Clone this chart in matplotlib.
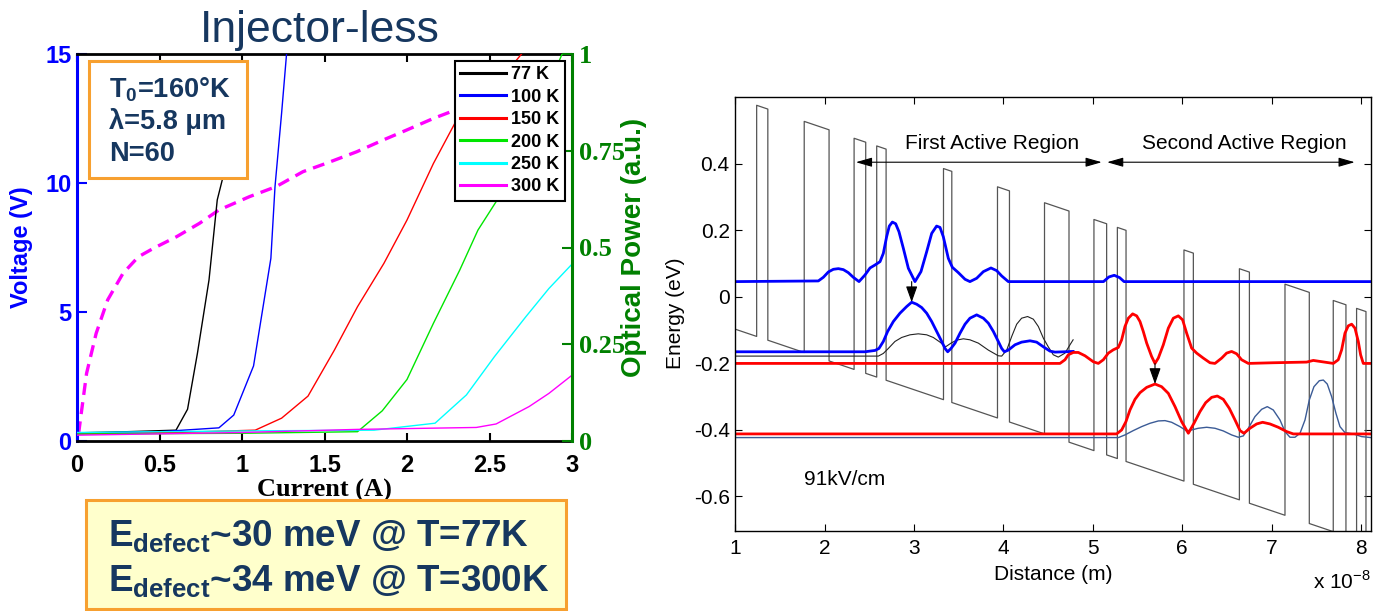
import matplotlib
matplotlib.use('Agg')
import matplotlib.pyplot as plt
from matplotlib.patches import Rectangle

plt.rcParams['font.family'] = ['Liberation Sans', 'DejaVu Sans']
plt.rcParams['axes.unicode_minus'] = False

W, H = 1382, 611

# ---------------- left panel data (current in A) ----------------
temps = ['77 K', '100 K', '150 K', '200 K', '250 K', '300 K']
temp_colors = ['#000000', '#0000FF', '#FF0000', '#00E600', '#00FFFF', '#FF00FF']

cur_77 = [0.0, 0.30, 0.60, 0.67, 0.73, 0.80, 0.85, 0.88, 0.95]
pow_77 = [0.021, 0.024, 0.028, 0.082, 0.227, 0.416, 0.623, 0.674, 0.85]
cur_100 = [0.0, 0.50, 0.86, 0.95, 1.07, 1.175, 1.20, 1.24, 1.27]
pow_100 = [0.020, 0.024, 0.034, 0.067, 0.194, 0.472, 0.657, 0.847, 1.0]
cur_150 = [0.0, 0.60, 1.08, 1.24, 1.40, 1.56, 1.70, 1.86, 2.00, 2.16, 2.30, 2.45, 2.64, 2.70]
pow_150 = [0.018, 0.022, 0.028, 0.059, 0.116, 0.235, 0.347, 0.459, 0.571, 0.717, 0.829, 0.900, 0.972, 1.003]
cur_200 = [0.0, 1.00, 1.70, 1.85, 2.00, 2.16, 2.32, 2.43, 2.55, 2.75, 2.94]
pow_200 = [0.018, 0.020, 0.024, 0.078, 0.159, 0.304, 0.442, 0.545, 0.625, 0.810, 1.0]
cur_250 = [0.0, 1.00, 1.80, 2.17, 2.36, 2.53, 2.72, 2.86, 3.0]
pow_250 = [0.022, 0.026, 0.028, 0.046, 0.119, 0.218, 0.321, 0.394, 0.457]
cur_300 = [0.0, 1.00, 1.70, 2.42, 2.54, 2.74, 2.86, 3.0]
pow_300 = [0.015, 0.022, 0.030, 0.035, 0.044, 0.089, 0.123, 0.170]

# voltage at 300 K (dashed)
cur_iv = [0.01, 0.023, 0.058, 0.116, 0.186, 0.279, 0.372, 0.464, 0.604, 0.743, 0.859,
          1.045, 1.207, 1.37, 1.509, 1.695, 1.857, 1.997, 2.159, 2.322, 2.45]
volt_iv = [0.3, 0.94, 2.62, 4.17, 5.47, 6.5, 7.14, 7.47, 7.92, 8.44, 8.95,
           9.47, 9.86, 10.44, 10.76, 11.21, 11.67, 12.05, 12.5, 12.9, 13.1]

curves = [(cur_77, pow_77), (cur_100, pow_100), (cur_150, pow_150),
          (cur_200, pow_200), (cur_250, pow_250), (cur_300, pow_300)]

# ---------------- right panel data (distance in 1e-8 m, energy in eV) ----------------
barriers = [(1.240, 1.365), (1.772, 2.050), (2.330, 2.460), (2.583, 2.688), (3.330, 3.423),
            (3.934, 4.068), (4.460, 4.734), (5.013, 5.155), (5.275, 5.372), (6.020, 6.125),
            (6.640, 6.752), (7.150, 7.422), (7.690, 7.832), (7.951, 8.056)]
field = 0.091        # eV per 1e-8 m  (91 kV/cm)
well_start = -0.097  # well bottom at x = 1
band_offset = 0.695
x_min, x_max = 1.0, 8.11

# upper laser level, first stage (blue, thick)
up1_x = [1.0, 1.930, 1.986, 2.042, 2.098, 2.154, 2.210, 2.265, 2.321, 2.385, 2.452, 2.508,
         2.564, 2.620, 2.657, 2.694, 2.724, 2.758, 2.795, 2.832, 2.881, 2.937, 3.011, 3.078,
         3.142, 3.198, 3.253, 3.291, 3.328, 3.384, 3.429, 3.496, 3.571, 3.626, 3.701, 3.776,
         3.861, 3.925, 3.981, 4.055, 5.12, 5.18, 5.24, 5.30, 5.35, 8.11]
up1_y = [0.046, 0.048, 0.059, 0.075, 0.083, 0.085, 0.082, 0.073, 0.059, 0.046, 0.066, 0.087,
         0.096, 0.106, 0.131, 0.181, 0.213, 0.225, 0.220, 0.196, 0.146, 0.086, 0.046, 0.076,
         0.136, 0.191, 0.213, 0.209, 0.181, 0.116, 0.089, 0.073, 0.053, 0.046, 0.056, 0.076,
         0.087, 0.079, 0.063, 0.046, 0.046, 0.060, 0.065, 0.058, 0.046, 0.046]

# lower laser level, first stage (blue, thick)
lo1_x = [1.0, 2.452, 2.564, 2.608, 2.657, 2.705, 2.769, 2.843, 2.918, 2.974, 3.030, 3.086,
         3.142, 3.198, 3.254, 3.310, 3.347, 3.377, 3.414, 3.459, 3.515, 3.571, 3.626, 3.701,
         3.776, 3.832, 3.888, 3.943, 3.981, 4.011, 4.055, 4.130, 4.204, 4.298, 4.372, 4.447,
         4.521, 4.577, 4.78]
lo1_y = [-0.165, -0.165, -0.161, -0.155, -0.134, -0.104, -0.074, -0.049, -0.029, -0.016,
         -0.022, -0.032, -0.049, -0.074, -0.104, -0.134, -0.155, -0.165, -0.155, -0.139,
         -0.109, -0.082, -0.064, -0.054, -0.064, -0.079, -0.104, -0.134, -0.155, -0.165,
         -0.160, -0.144, -0.136, -0.132, -0.136, -0.150, -0.163, -0.166, -0.164]

# second lower state, first stage (thin black)
lo1b_x = [1.0, 2.601, 2.657, 2.713, 2.787, 2.862, 2.955, 3.048, 3.142, 3.216, 3.291, 3.354,
          3.414, 3.477, 3.552, 3.626, 3.720, 3.832, 3.943, 3.981, 4.037, 4.093, 4.149, 4.204,
          4.271, 4.335, 4.391, 4.447, 4.502, 4.558, 4.614, 4.689, 4.745, 4.78]
lo1b_y = [-0.178, -0.178, -0.170, -0.155, -0.134, -0.122, -0.114, -0.111, -0.114, -0.122,
          -0.136, -0.150, -0.139, -0.130, -0.126, -0.129, -0.139, -0.160, -0.177, -0.178,
          -0.160, -0.119, -0.082, -0.064, -0.059, -0.067, -0.089, -0.124, -0.150, -0.174,
          -0.181, -0.169, -0.144, -0.129]

# upper laser level, second stage (red, thick)
up2_x = [1.0, 4.633, 4.689, 4.726, 4.782, 4.838, 4.913, 5.006, 5.062, 5.118, 5.174, 5.230,
         5.286, 5.323, 5.360, 5.398, 5.446, 5.491, 5.528, 5.565, 5.603, 5.658, 5.696, 5.733,
         5.789, 5.845, 5.901, 5.957, 6.005, 6.050, 6.106, 6.162, 6.236, 6.311, 6.367, 6.442,
         6.497, 6.553, 6.609, 6.665, 6.740, 7.019, 7.392, 7.467, 7.541, 7.691, 7.746, 7.784,
         7.821, 7.858, 7.896, 7.933, 7.970, 7.996, 8.026, 8.11]
up2_y = [-0.200, -0.200, -0.189, -0.174, -0.167, -0.167, -0.177, -0.195, -0.200, -0.189,
         -0.169, -0.159, -0.152, -0.129, -0.089, -0.064, -0.051, -0.057, -0.074, -0.104,
         -0.139, -0.179, -0.200, -0.184, -0.144, -0.094, -0.064, -0.057, -0.069, -0.109,
         -0.154, -0.169, -0.184, -0.198, -0.200, -0.184, -0.169, -0.164, -0.171, -0.189,
         -0.200, -0.198, -0.196, -0.191, -0.194, -0.200, -0.189, -0.159, -0.109, -0.087,
         -0.082, -0.094, -0.134, -0.174, -0.200, -0.200]

# lower laser level, second stage (red, thick)
lo2_x = [1.0, 5.267, 5.323, 5.371, 5.416, 5.472, 5.528, 5.603, 5.696, 5.770, 5.845, 5.920,
         5.994, 6.069, 6.132, 6.199, 6.263, 6.330, 6.393, 6.460, 6.527, 6.591, 6.647, 6.691,
         6.758, 6.833, 6.900, 6.982, 7.075, 7.169, 7.243, 8.11]
lo2_y = [-0.412, -0.412, -0.400, -0.375, -0.340, -0.308, -0.288, -0.272, -0.262, -0.270,
         -0.290, -0.330, -0.375, -0.410, -0.380, -0.345, -0.318, -0.302, -0.298, -0.308,
         -0.335, -0.370, -0.402, -0.410, -0.395, -0.382, -0.377, -0.382, -0.392, -0.405,
         -0.412, -0.412]

# second lower state, second stage (thin steel blue)
lo2b_x = [1.0, 5.286, 5.360, 5.453, 5.547, 5.640, 5.733, 5.808, 5.882, 5.975, 6.050, 6.106,
          6.180, 6.274, 6.367, 6.460, 6.553, 6.628, 6.684, 6.740, 6.814, 6.889, 6.952, 7.019,
          7.094, 7.150, 7.206, 7.262, 7.318, 7.374, 7.422, 7.474, 7.534, 7.579, 7.623, 7.672,
          7.720, 7.765, 7.821, 7.914, 8.007, 8.11]
lo2b_y = [-0.423, -0.423, -0.415, -0.402, -0.390, -0.380, -0.373, -0.372, -0.377, -0.390,
          -0.403, -0.400, -0.395, -0.392, -0.395, -0.403, -0.415, -0.422, -0.418, -0.395,
          -0.360, -0.338, -0.330, -0.340, -0.370, -0.405, -0.422, -0.422, -0.410, -0.370,
          -0.310, -0.270, -0.252, -0.250, -0.262, -0.300, -0.350, -0.390, -0.408, -0.412,
          -0.420, -0.423]

# laser transitions (arrows)
trans_x = [2.974, 5.696]
trans_top = [0.046, -0.200]
trans_bottom = [-0.016, -0.262]

# active region markers
region_names = ['First Active Region', 'Second Active Region']
region_start = [2.35, 5.16]
region_end = [5.10, 7.93]
region_y = 0.405
region_text_y = 0.462

# ---------------- figure ----------------
fig = plt.figure(figsize=(W / 100, H / 100), dpi=100)


def fx(px):
    return px / W


def fy(py):
    return 1 - py / H


navy = '#16375F'
orange = '#F7A030'
green_axis = '#008000'

# ===== left: LIV =====
axl = fig.add_axes([fx(77), fy(441), fx(572 - 77), (441 - 54) / H])
axp = axl.twinx()

axl.plot(cur_iv, volt_iv, color='#FF00FF', lw=2.4, dashes=(3.6, 2.2))
for (c, p), lab, col in zip(curves, temps, temp_colors):
    axp.plot(c, p, color=col, lw=1.0, label=lab)

axl.set_xlim(0, 3)
axl.set_ylim(0, 15)
axp.set_ylim(0, 1)

axl.set_xticks([0, 0.5, 1, 1.5, 2, 2.5, 3],
               labels=['0', '0.5', '1', '1.5', '2', '2.5', '3'],
               fontsize=17, fontweight='bold')
axl.set_yticks([0, 5, 10, 15], labels=['0', '5', '10', '15'],
               fontsize=17, fontweight='bold', color='#0000FF')
axp.set_yticks([0, 0.25, 0.5, 0.75, 1], labels=['0', '0.25', '0.5', '0.75', '1'],
               fontsize=19, fontweight='bold', color=green_axis,
               family=['Liberation Serif', 'DejaVu Serif'])

axl.tick_params(axis='x', direction='in', top=True, length=6, width=1.5, pad=9)
axl.tick_params(axis='y', direction='in', length=7, width=1.5, color='#0000FF', pad=4)
axp.tick_params(axis='y', direction='in', length=7, width=1.5, color=green_axis, pad=5)

for sp in ['top', 'bottom']:
    axl.spines[sp].set_linewidth(2.0)
axl.spines['left'].set_color('#0000FF')
axl.spines['left'].set_linewidth(2.2)
axl.spines['right'].set_visible(False)
axp.spines['left'].set_visible(False)
axp.spines['top'].set_visible(False)
axp.spines['bottom'].set_visible(False)
axp.spines['right'].set_color(green_axis)
axp.spines['right'].set_linewidth(2.2)

axl.set_xlabel('Current (A)', fontsize=19, fontweight='bold',
               family=['Liberation Serif', 'DejaVu Serif'], labelpad=2)
axl.set_ylabel('Voltage (V)', fontsize=17, fontweight='bold', color='#0000FF', labelpad=9)
axp.set_ylabel('Optical Power (a.u.)', fontsize=20, fontweight='bold', color=green_axis,
               labelpad=-3)

leg = axp.legend(loc='upper right', bbox_to_anchor=(0.986, 0.982), borderaxespad=0,
                 frameon=True, fancybox=False, edgecolor='black', framealpha=1,
                 prop={'weight': 'bold', 'size': 13}, labelspacing=0.3,
                 handlelength=2.55, handletextpad=0.3, borderpad=0.3)
leg.get_frame().set_linewidth(1.5)
for ln in leg.get_lines():
    ln.set_linewidth(2.2)

# title and info boxes
fig.text(fx(320), fy(42), 'Injector-less', fontsize=32, color=navy,
         ha='center', va='baseline')

fig.add_artist(Rectangle((fx(89), fy(178)), fx(247 - 89), (178 - 61) / H,
                         transform=fig.transFigure, facecolor='white',
                         edgecolor=orange, lw=2.2, zorder=5))
info_lines = [r'T$_{\mathregular{0}}$=160°K', 'λ=5.8 μm', 'N=60']
info_base = [98, 129, 161]
for s, b in zip(info_lines, info_base):
    fig.text(fx(109), fy(b), s, fontsize=19.5, fontweight='bold', color=navy,
             ha='left', va='baseline', zorder=6)

fig.add_artist(Rectangle((fx(86), fy(609)), fx(566 - 86), (609 - 500) / H,
                         transform=fig.transFigure, facecolor='#FFFFCC',
                         edgecolor=orange, lw=2.2, zorder=5))
defect_lines = [r'E$_{\mathregular{defect}}$~30 meV @ T=77K',
                r'E$_{\mathregular{defect}}$~34 meV @ T=300K']
defect_base = [547, 592]
for s, b in zip(defect_lines, defect_base):
    fig.text(fx(108), fy(b), s, fontsize=26.5, fontweight='bold', color=navy,
             ha='left', va='baseline', zorder=6)

# ===== right: band diagram =====
axr = fig.add_axes([fx(735.2), fy(530.7), fx(1370.8 - 735.2), (530.7 - 96.7) / H])


def well(x):
    return well_start - field * (x - x_min)


band_x = [x_min]
band_y = [well(x_min)]
for a, b in barriers:
    band_x += [a, a, b, b]
    band_y += [well(a), well(a) + band_offset, well(b) + band_offset, well(b)]
band_x.append(x_max)
band_y.append(well(x_max))
axr.plot(band_x, band_y, color='#555555', lw=0.9)

axr.plot(lo1b_x, lo1b_y, color='#222222', lw=0.8)
axr.plot(lo2b_x, lo2b_y, color='#3B5B96', lw=1.0)
axr.plot(up1_x, up1_y, color='#0000FF', lw=2.0)
axr.plot(lo1_x, lo1_y, color='#0000FF', lw=2.0)
axr.plot(up2_x, up2_y, color='#FF0000', lw=2.0)
axr.plot(lo2_x, lo2_y, color='#FF0000', lw=2.0)

for xt, yt, yb in zip(trans_x, trans_top, trans_bottom):
    axr.annotate('', xy=(xt, yb), xytext=(xt, yt),
                 arrowprops=dict(arrowstyle='-|>,head_length=0.7,head_width=0.25',
                                 color='black', lw=0.8, shrinkA=0, shrinkB=0,
                                 mutation_scale=14))

for name, xa, xb in zip(region_names, region_start, region_end):
    axr.annotate('', xy=(xb, region_y), xytext=(xa, region_y),
                 arrowprops=dict(arrowstyle='<|-|>,head_length=0.7,head_width=0.2',
                                 color='black', lw=0.8, shrinkA=0, shrinkB=0,
                                 mutation_scale=14))
    axr.text((xa + xb) / 2 + 0.15, region_text_y, name, fontsize=15,
             ha='center', va='center')

axr.text(2.226, -0.55, '91kV/cm', fontsize=15, ha='center', va='center')

axr.set_xlim(x_min, x_max)
axr.set_ylim(-0.703, 0.602)
axr.set_xticks(range(1, 9))
axr.set_yticks([-0.6, -0.4, -0.2, 0, 0.2, 0.4],
               labels=['-0.6', '-0.4', '-0.2', '0', '0.2', '0.4'])
axr.tick_params(direction='in', top=True, right=True, length=5, width=0.8,
                labelsize=15)
axr.tick_params(axis='x', pad=6)
axr.tick_params(axis='y', pad=4)
for sp in axr.spines.values():
    sp.set_linewidth(1.0)
axr.set_xlabel('Distance (m)', fontsize=15, labelpad=5)
axr.set_ylabel('Energy (eV)', fontsize=15, labelpad=6)
axr.text(1.0, -0.117, r'x 10$^{\mathregular{-8}}$', transform=axr.transAxes,
         fontsize=15, ha='right', va='center')

fig.savefig('out.png', dpi=100)
